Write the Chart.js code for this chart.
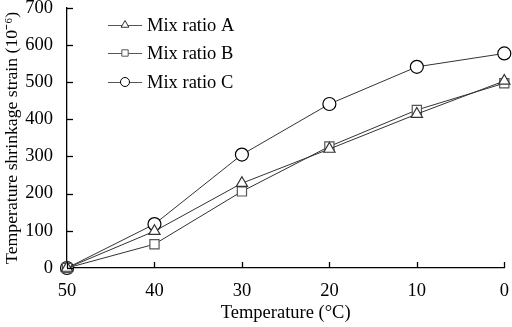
<!DOCTYPE html>
<html>
<head>
<meta charset="utf-8">
<script src="https://cdn.jsdelivr.net/npm/chart.js@4/dist/chart.umd.min.js"></script>
<style>
  html, body { margin: 0; padding: 0; background: #fff; }
  #wrap { width: 512px; height: 327px; position: relative; }
</style>
</head>
<body>
<div id="wrap"><canvas id="strainChart"></canvas></div>
<script>
// Datos
const temperatures = ["50", "40", "30", "20", "10", "0"]
const mixA = [0, 99, 228, 320, 414, 503]
const mixB = [0, 64, 206, 327, 425, 497]
const mixC = [0, 118, 305, 441, 541, 577]
const seriesNames = ["Mix ratio A", "Mix ratio B", "Mix ratio C"]
const yTicks = [0, 100, 200, 300, 400, 500, 600, 700]

const FONT = "'Liberation Serif', 'Times New Roman', serif"
const FONT_SIZE = 18.5

/**
 * Ticks hacia dentro y leyenda con línea + marcador
 */
const extrasPlugin = {
  id: "extras",
  afterDraw(chart) {
    const ctx = chart.ctx
    const xs = chart.scales.x
    const ys = chart.scales.y
    const area = chart.chartArea
    ctx.save()
    ctx.strokeStyle = "#000"
    ctx.lineWidth = 1.3
    // ticks del eje x
    xs.ticks.forEach((t, i) => {
      const px = Math.round(xs.getPixelForTick(i)) + 0.5
      ctx.beginPath()
      ctx.moveTo(px, area.bottom)
      ctx.lineTo(px, area.bottom - 6)
      ctx.stroke()
    })
    // ticks del eje y
    ys.ticks.forEach((t, i) => {
      const py = Math.round(ys.getPixelForTick(i)) + 0.5
      ctx.beginPath()
      ctx.moveTo(area.left, py)
      ctx.lineTo(area.left + 6, py)
      ctx.stroke()
    })

    // leyenda
    const rows = [25, 53, 82]
    chart.data.datasets.forEach((ds, i) => {
      const y = rows[i]
      ctx.strokeStyle = "#555"
      ctx.lineWidth = 1
      ctx.beginPath()
      ctx.moveTo(108, y + 0.5)
      ctx.lineTo(142, y + 0.5)
      ctx.stroke()
      ctx.fillStyle = "#fff"
      ctx.strokeStyle = ds.pointBorderColor
      ctx.lineWidth = 1
      Chart.helpers.drawPoint(ctx, {
        pointStyle: ds.pointStyle,
        radius: 4.5,
        rotation: 0,
        borderWidth: 1
      }, 125, y)
      ctx.fillStyle = "#000"
      ctx.font = FONT_SIZE + "px " + FONT
      ctx.textBaseline = "middle"
      ctx.fillText(ds.label, 147, y + 1)
    })
    ctx.restore()
  }
}

function makeDataset(label, data, style, color) {
  return {
    label: label,
    data: data,
    borderColor: "#333",
    borderWidth: 1,
    pointStyle: style,
    pointRadius: 6.5,
    pointHoverRadius: 6.5,
    pointBackgroundColor: "#fff",
    pointBorderColor: color,
    pointBorderWidth: 1.2,
    tension: 0,
    fill: false
  }
}

new Chart(document.getElementById("strainChart"), {
  type: "line",
  data: {
    labels: temperatures,
    datasets: [
      makeDataset(seriesNames[0], mixA, "triangle", "#333"),
      makeDataset(seriesNames[1], mixB, "rect", "#555"),
      makeDataset(seriesNames[2], mixC, "circle", "#000")
    ]
  },
  options: {
    responsive: true,
    maintainAspectRatio: false,
    animation: false,
    clip: false,
    layout: { padding: { top: 6, right: 5, left: 0, bottom: 0 } },
    plugins: {
      legend: { display: false },
      tooltip: { enabled: false }
    },
    scales: {
      x: {
        type: "category",
        offset: false,
        grid: { display: false, drawTicks: false },
        border: { display: true, color: "#000", width: 1.3 },
        ticks: {
          color: "#000",
          font: { family: FONT, size: FONT_SIZE },
          padding: 12,
          maxRotation: 0,
          autoSkip: false
        },
        title: {
          display: true,
          text: "Temperature (°C)",
          color: "#000",
          font: { family: FONT, size: FONT_SIZE },
          padding: { top: 0, bottom: 3 }
        },
        afterFit(scale) {
          scale.height = 59
          scale.paddingLeft = 0
          scale.paddingRight = 0
        }
      },
      y: {
        min: 0,
        max: 700,
        afterBuildTicks(scale) { scale.ticks = yTicks.map((v) => ({ value: v })) },
        grid: { display: false, drawTicks: false },
        border: { display: true, color: "#000", width: 1.3 },
        ticks: {
          color: "#000",
          font: { family: FONT, size: FONT_SIZE },
          padding: 14
        },
        title: {
          display: true,
          text: "Temperature shrinkage strain (10⁻⁶)",
          color: "#000",
          font: { family: FONT, size: 17.7 },
          padding: { top: 2, bottom: 0 }
        },
        afterFit(scale) {
          scale.width = 67
          scale.paddingTop = 0
          scale.paddingBottom = 0
        }
      }
    }
  },
  plugins: [extrasPlugin]
})
</script>
</body>
</html>
